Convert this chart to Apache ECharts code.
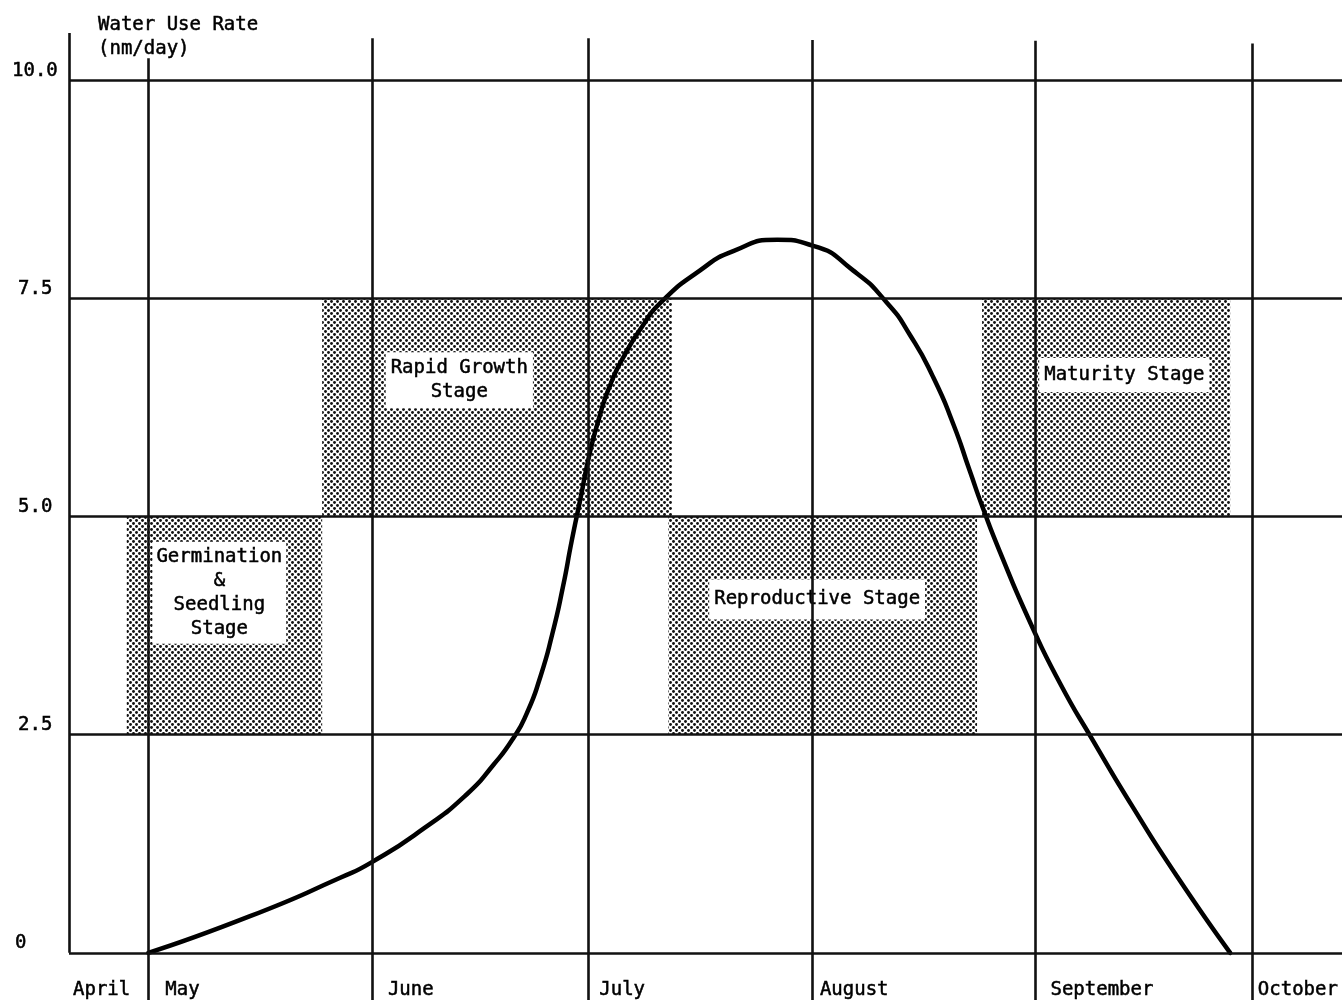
<!DOCTYPE html>
<html><head><meta charset="utf-8">
<script src="https://cdn.jsdelivr.net/npm/echarts@6/dist/echarts.min.js"></script>
<style>html,body{margin:0;padding:0;background:#fff}#c{width:1342px;height:1005px}</style>
</head><body><div id="c"></div>
<script>
// ---- data (x = day of year, y = water use rate mm/day) ----
const months = ['April','May','June','July','August','September','October'];
const monthStartDay = [91,121,152,182,213,244,274];
const rateTicks = [0, 2.5, 5.0, 7.5, 10.0];
const curveDay  = [121,135.1,147.6,152.0,159.1,165.2,168.8,171.6,173.5,175.3,177.0,178.5,179.7,180.9,182.0,183.4,185.0,187.1,189.5,191.9,197.5,202.1,208.2,213.2,218.7,223.4,226.6,229.8,232.6,234.9,236.7,239.1,243.3,247.4,252.0,257.5,263.6,271.0];
const curveRate = [0,0.42,0.86,1.04,1.42,1.82,2.15,2.46,2.75,3.15,3.65,4.20,4.72,5.20,5.65,6.10,6.50,6.86,7.18,7.44,7.82,8.04,8.17,8.10,7.82,7.45,7.08,6.60,6.06,5.52,5.10,4.59,3.78,3.09,2.43,1.67,0.88,0];
const stageNames = ['Germination\n&\nSeedling\nStage','Rapid Growth\nStage','Reproductive Stage','Maturity Stage'];
const stageStartDay = [118.0,145.1,193.1,236.6];
const stageEndDay   = [145.1,193.6,235.9,271.0];
const stageLowRate  = [2.5,5.0,2.5,5.0];
const stageHighRate = [5.0,7.5,5.0,7.5];

// ---- styling ----
const X_MIN = 110, X_MAX = 286.5, Y_MIN = -0.54, Y_MAX = 10.54;
const FONT = 'DejaVu Sans Mono';
const INK = '#111';
const TXT = {fontFamily:FONT,fontSize:19,color:'#000',textBorderColor:'#000',textBorderWidth:0.5};
const monthLineTop = [null,10.25,10.48,10.48,10.46,10.45,10.42];
const labelPadLeft = [4,17,16,11,8,15,6];
const yLabelPad = {'0':3,'2.5':6,'5':6,'7.5':6,'10':0};
const stageLabelPos = [['47.4%','35%'],['39.2%','37.6%'],['48.2%','38%'],['57.3%','35.2%']];
const stageLabelPad = [[3,4],[4,5],[8,5],[5,5]];

function makePattern(){
  const c=document.createElement('canvas'); c.width=6; c.height=6;
  const g=c.getContext('2d');
  g.fillStyle='#fff'; g.fillRect(0,0,6,6);
  g.fillStyle='#111';
  g.beginPath(); g.arc(1.5,1.5,1.45,0,Math.PI*2); g.fill();
  g.beginPath(); g.arc(4.5,4.5,1.45,0,Math.PI*2); g.fill();
  return c;
}
const pattern = {image: makePattern(), repeat: 'repeat'};

const labelValues = monthStartDay.map(d => Math.max(d, X_MIN));
const xRich = {};
months.forEach((m,i)=>{ xRich['m'+i] = Object.assign({}, TXT, {padding:[0,0,0,labelPadLeft[i]]}); });
const yRich = {};
rateTicks.forEach((v,i)=>{ yRich['r'+i] = Object.assign({}, TXT, {padding:[0,0,0,yLabelPad[String(v)]]}); });

const gridLines = rateTicks.map(v => ({yAxis: v}));
for (let i=1;i<months.length;i++){
  gridLines.push([{coord:[monthStartDay[i], monthLineTop[i]]},{coord:[monthStartDay[i], Y_MIN]}]);
}
gridLines.push([{coord:[X_MIN, Y_MAX]},{coord:[X_MIN, 0]}]);

const stageFill = stageNames.map((n,i)=>[{xAxis:stageStartDay[i], yAxis:stageLowRate[i]},{xAxis:stageEndDay[i], yAxis:stageHighRate[i]}]);
const stageLabels = stageNames.map((n,i)=>[
  {name:n, xAxis:stageStartDay[i], yAxis:stageLowRate[i],
   label:{show:true, position:stageLabelPos[i], align:'center', verticalAlign:'middle', padding:stageLabelPad[i]}},
  {xAxis:stageEndDay[i], yAxis:stageHighRate[i]}]);

const chart = echarts.init(document.getElementById('c'), null, {renderer:'canvas'});
chart.setOption({
  animation:false,
  backgroundColor:'#fff',
  title:{text:'Water Use Rate\n(nm/day)', left:93, top:8,
    textStyle:Object.assign({}, TXT, {fontWeight:'normal',lineHeight:24})},
  grid:{left:69,right:0,top:33,bottom:5,containLabel:false},
  xAxis:{type:'value',min:X_MIN,max:X_MAX,
    axisLine:{show:false},axisTick:{show:false},splitLine:{show:false},
    axisLabel:Object.assign({customValues:labelValues,inside:true,margin:0,align:'left',
      formatter:(v)=>{const i=labelValues.indexOf(v); return i<0?'':'{m'+i+'|'+months[i]+'}';},
      rich:xRich}, TXT)},
  yAxis:{type:'value',min:Y_MIN,max:Y_MAX,
    axisLine:{show:false},axisTick:{show:false},splitLine:{show:false},
    axisLabel:Object.assign({customValues:rateTicks,margin:57,align:'left',verticalAlign:'bottom',
      formatter:(v)=>{const i=rateTicks.indexOf(v); const s = v===0?'0':v.toFixed(1); return '{r'+i+'|'+s+'}';},
      rich:yRich}, TXT)},
  series:[
    {type:'line',data:[],z:1,silent:true,
      markArea:{silent:true,itemStyle:{color:pattern},label:{show:false},data:stageFill}},
    {type:'line',data:[],z:2,silent:true,
      markLine:{silent:true,symbol:['none','none'],label:{show:false},
        lineStyle:{color:INK,width:2.6,type:'solid'},emphasis:{disabled:true},data:gridLines}},
    {type:'line',data:[],z:3,silent:true,
      markArea:{silent:true,itemStyle:{color:'rgba(0,0,0,0)'},
        label:Object.assign({show:true,lineHeight:24,backgroundColor:'#fff'}, TXT),
        data:stageLabels}},
    {type:'line',name:'Water use rate',z:4,smooth:0.6,symbol:'none',
      data:curveDay.map((d,i)=>[d,curveRate[i]]),
      lineStyle:{color:'#000',width:4.5,cap:'round',join:'round'}}
  ]
});
</script></body></html>
